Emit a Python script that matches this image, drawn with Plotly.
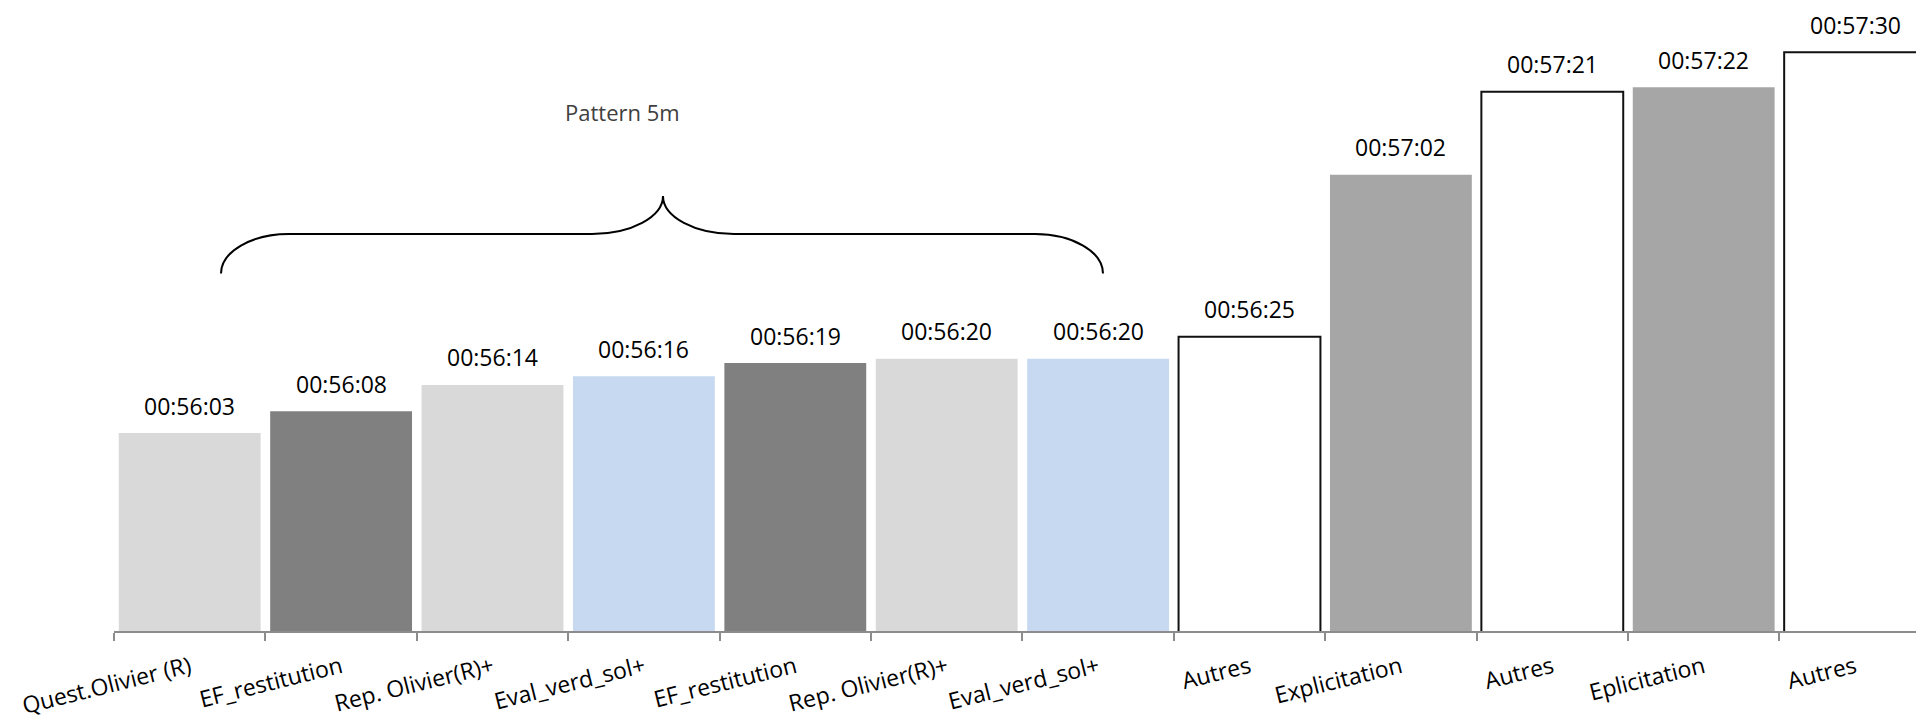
import plotly.graph_objects as go

# ---- data ----
categories = ["Quest.Olivier (R)", "EF_restitution", "Rep. Olivier(R)+", "Eval_verd_sol+",
              "EF_restitution", "Rep. Olivier(R)+", "Eval_verd_sol+", "Autres",
              "Explicitation", "Autres", "Eplicitation", "Autres"]
durations = ["00:56:03", "00:56:08", "00:56:14", "00:56:16", "00:56:19", "00:56:20",
             "00:56:20", "00:56:25", "00:57:02", "00:57:21", "00:57:22", "00:57:30"]
fill_colors = ["#D9D9D9", "#808080", "#D9D9D9", "#C6D9F1", "#808080", "#D9D9D9",
               "#C6D9F1", "#FFFFFF", "#A6A6A6", "#FFFFFF", "#A6A6A6", "#FFFFFF"]
outlined = [False, False, False, False, False, False, False, True, False, True, False, True]
bracket_label = "Pattern 5m"


def to_seconds(s):
    h, m, sec = (int(p) for p in s.split(":"))
    return h * 3600 + m * 60 + sec


values = [to_seconds(d) for d in durations]
ids = [str(i) for i in range(len(categories))]

# ---- layout geometry ----
W, H = 1916, 719
ML, MR, MT, MB = 114, 0, 0, 88
PW, PH = W - ML - MR, H - MT - MB
cat_w = 151.4
y_min = 0.0384 * 86400          # axis minimum (days -> seconds)
px_per_s = 4.376
y_max = y_min + PH / px_per_s


def px(xp):
    return (xp - ML) / PW


def py(yp):
    return (MT + PH - yp) / PH


fig = go.Figure()
fig.add_trace(go.Bar(
    x=ids, y=values,
    marker=dict(color=fill_colors,
                line=dict(color=["#111111" if o else "rgba(0,0,0,0)" for o in outlined],
                          width=[2 if o else 0 for o in outlined])),
    hoverinfo="skip",
))

annotations = []
for i, (d, v) in enumerate(zip(durations, values)):
    annotations.append(dict(x=ids[i], y=v, xref="x", yref="y", text=d, showarrow=False,
                            yanchor="middle", xanchor="center", yshift=27.5,
                            font=dict(family="Open Sans", size=23, color="#000000")))

annotations.append(dict(x=px(622), y=py(112), xref="paper", yref="paper",
                        text=bracket_label, showarrow=False, xanchor="center", yanchor="middle",
                        font=dict(family="Open Sans", size=22, color="#404040")))

# curly brace path (paper coordinates)
def P(x, y):
    return f"{px(x):.5f},{py(y):.5f}"

path = (f"M {P(221, 273.5)} C {P(221, 251.7)} {P(251.5, 234)} {P(289, 234)} "
        f"L {P(592, 234)} C {P(631, 234)} {P(663, 217)} {P(663, 196)} "
        f"C {P(663, 217)} {P(695, 234)} {P(734, 234)} "
        f"L {P(1035, 234)} C {P(1072.5, 234)} {P(1103, 251.7)} {P(1103, 273.5)}")

fig.update_layout(
    width=W, height=H,
    margin=dict(l=ML, r=MR, t=MT, b=MB),
    paper_bgcolor="white", plot_bgcolor="white",
    bargap=0.063,
    showlegend=False,
    annotations=annotations,
    shapes=[dict(type="path", path=path, xref="paper", yref="paper",
                 line=dict(color="#000000", width=2))],
    xaxis=dict(type="category", categoryorder="array", categoryarray=ids,
               tickmode="array", tickvals=ids, ticktext=categories,
               tickson="boundaries", ticks="outside", ticklen=8, tickwidth=2,
               tickcolor="#8C8C8C", showline=True, linecolor="#8C8C8C", linewidth=2,
               showgrid=False, tickangle=-14, automargin=False, ticklabelstandoff=12,
               tickfont=dict(family="Open Sans", size=23, color="#000000"),
               range=[-0.5, -0.5 + PW / cat_w]),
    yaxis=dict(visible=False, range=[y_min, y_max], showgrid=False, zeroline=False),
)

fig.write_html("out.html", config={"displayModeBar": False},
               post_script="document.body.style.margin='0';document.body.style.overflow='hidden';")
